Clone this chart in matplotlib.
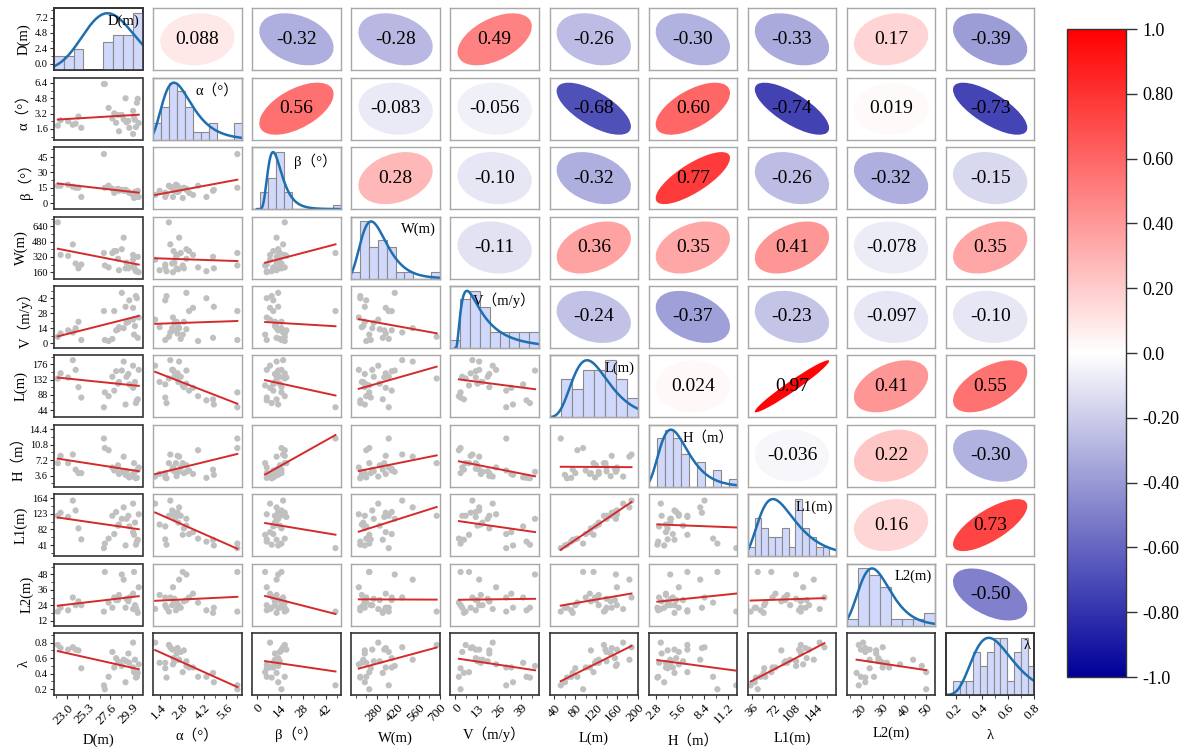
import numpy as np
import matplotlib
matplotlib.use('Agg')
import matplotlib.pyplot as plt
from matplotlib.patches import Ellipse
from matplotlib.colors import LinearSegmentedColormap, Normalize
from matplotlib.cm import ScalarMappable
from matplotlib.ticker import AutoMinorLocator

plt.rcParams['font.family'] = ['Liberation Serif', 'Noto Sans CJK SC', 'DejaVu Sans']
plt.rcParams['axes.unicode_minus'] = False

names = ['D(m)', 'α（°）', 'β（°）', 'W(m)', 'V（m/y）', 'L(m)', 'H（m）', 'L1(m)', 'L2(m)', 'λ']

# samples (estimated from the scatter panels)
D = [30.0, 28.5, 29.6, 24.5, 30.3, 23.6, 23.9, 28.2, 23.1, 29.5, 29.0, 27.8, 28.8, 30.6, 30.2,
     30.1, 28.4, 28.0, 30.0, 27.4, 30.4, 30.5, 29.2, 26.9, 27.0, 29.3, 22.0, 22.3, 24.2]
alpha = [1.08, 1.36, 1.72, 1.72, 1.80, 2.04, 2.16, 2.25, 2.40, 2.44, 2.60, 2.70, 3.06, 2.21, 2.55,
         2.83, 3.06, 3.23, 3.48, 3.80, 4.33, 4.75, 4.80, 6.29, 6.29, 2.30, 1.95, 2.50, 2.90]
beta = [8, 12, 10, 6, 9, 16, 15, 13, 18, 11, 12, 14, 13, 6, 11,
        5, 14, 10, 8, 17, 6, 12, 13, 48, 15, 12, 17, 17, 15]
Wm = [290, 180, 210, 240, 170, 450, 250, 380, 330, 200, 520, 360, 400, 160, 190,
      230, 300, 380, 340, 210, 170, 320, 200, 360, 230, 260, 680, 340, 200]
V = [22, 15, 40, 3, 44, 10, 14, 12, 12, 20, 14, 4, 47, 24, 16,
     8, 13, 30, 33, 2, 42, 5, 34, 30, 3, 19, 6, 9, 20]
L = [172, 125, 118, 80, 64, 188, 160, 156, 138, 148, 184, 140, 158, 160, 125,
     115, 120, 100, 108, 84, 72, 75, 60, 52, 95, 140, 135, 150, 110]
H = [3.4, 4.0, 3.2, 4.2, 3.0, 8.5, 5.0, 5.2, 6.5, 3.5, 8.0, 5.5, 4.5, 5.5, 4.5,
     6.5, 6.0, 4.8, 4.0, 9.5, 3.1, 5.0, 3.8, 12.2, 10.0, 4.6, 6.5, 8.2, 4.2]
L1 = [150, 95, 90, 56, 42, 158, 132, 128, 115, 118, 140, 118, 110, 122, 100,
      68, 92, 70, 75, 58, 50, 55, 40, 33, 45, 110, 118, 126, 85]
L2 = [21, 32, 30, 24, 22, 30, 24, 28, 20, 27, 44, 22, 48, 38, 24,
      50, 28, 30, 33, 26, 20, 18, 22, 19, 50, 29, 19, 22, 27]
lam = [0.80, 0.54, 0.54, 0.47, 0.35, 0.74, 0.71, 0.60, 0.71, 0.66, 0.58, 0.68, 0.50, 0.52, 0.58,
       0.42, 0.56, 0.48, 0.48, 0.36, 0.36, 0.41, 0.29, 0.25, 0.20, 0.56, 0.77, 0.73, 0.70]

data = [np.array(v, dtype=float) for v in (D, alpha, beta, Wm, V, L, H, L1, L2, lam)]

# printed correlation coefficients, upper triangle row by row
corr_rows = [
    ['0.088', '-0.32', '-0.28', '0.49', '-0.26', '-0.30', '-0.33', '0.17', '-0.39'],
    ['0.56', '-0.083', '-0.056', '-0.68', '0.60', '-0.74', '0.019', '-0.73'],
    ['0.28', '-0.10', '-0.32', '0.77', '-0.26', '-0.32', '-0.15'],
    ['-0.11', '0.36', '0.35', '0.41', '-0.078', '0.35'],
    ['-0.24', '-0.37', '-0.23', '-0.097', '-0.10'],
    ['0.024', '0.97', '0.41', '0.55'],
    ['-0.036', '0.22', '-0.30'],
    ['0.16', '0.73'],
    ['-0.50'],
]

xticks = [['23.0', '25.3', '27.6', '29.9'], ['1.4', '2.8', '4.2', '5.6'], ['0', '14', '28', '42'],
          ['280', '420', '560', '700'], ['0', '13', '26', '39'], ['40', '80', '120', '160', '200'],
          ['2.8', '5.6', '8.4', '11.2'], ['36', '72', '108', '144'], ['20', '30', '40', '50'],
          ['0.2', '0.4', '0.6', '0.8']]
yticks = [['0.0', '2.4', '4.8', '7.2'], ['1.6', '3.2', '4.8', '6.4'], ['0', '15', '30', '45'],
          ['160', '320', '480', '640'], ['0', '14', '28', '42'], ['44', '88', '132', '176'],
          ['3.6', '7.2', '10.8', '14.4'], ['41', '82', '123', '164'], ['12', '24', '36', '48'],
          ['0.2', '0.4', '0.6', '0.8']]
xlims = [(21.6, 31.0), (0.95, 6.56), (-2.9, 51.2), (110, 701), (-3, 49.3), (30.4, 200.5),
         (1.98, 12.3), (28, 178), (13.5, 54.2), (0.123, 0.805)]
ylims = [(-1.05, 8.66), (0.48, 6.95), (-5.9, 54.8), (94, 741), (-4.4, 53.5), (23, 202),
         (1.05, 15.4), (12, 175), (8.1, 56.6), (0.127, 0.925)]
nbins = [9, 11, 11, 10, 9, 8, 11, 13, 8, 13]

cb_ticks = [-1.0, -0.8, -0.6, -0.4, -0.2, 0.0, 0.2, 0.4, 0.6, 0.8, 1.0]
cb_labels = ['-1.0', '-0.80', '-0.60', '-0.40', '-0.20', '0.0', '0.20', '0.40', '0.60', '0.80', '1.0']

cmap = LinearSegmentedColormap.from_list('bwr_o', [(0, 0, 0.6), (1, 1, 1), (1, 0, 0)])
norm = Normalize(-1, 1)

FW, FH = 1192, 755
fig = plt.figure(figsize=(FW / 100, FH / 100), dpi=100)

left0, colstep, pw = 54, 99.1, 88.5
top0, rowstep, ph = 8.3, 69.4, 62
dark, light = '#333333', '#a8a8a8'

for i in range(10):
    for j in range(10):
        x0 = left0 + j * colstep
        y0 = top0 + i * rowstep
        ax = fig.add_axes([x0 / FW, 1 - (y0 + ph) / FH, pw / FW, ph / FH])
        edge = dark if (j == 0 or i == 9) else light
        for sp in ax.spines.values():
            sp.set_color(edge)
            sp.set_linewidth(1.2 if edge == dark else 1.0)
        ax.set_xticks([])
        ax.set_yticks([])

        if i > j:
            # lower triangle: scatter with linear fit
            x, y = data[j], data[i]
            ax.scatter(x, y, s=20, color='#c0c0c0', edgecolors='none', zorder=2)
            k, b = np.polyfit(x, y, 1)
            xs = np.array([x.min(), x.max()])
            ax.plot(xs, k * xs + b, color='#d42a2a', lw=1.4, zorder=3)
            ax.set_xlim(xlims[j])
            ax.set_ylim(ylims[i])
        elif i == j:
            # diagonal: histogram with fitted curve
            ax.set_xlim(xlims[j])
            ax.set_ylim(ylims[i])
            ax2 = ax.twinx()
            for sp in ax2.spines.values():
                sp.set_color(edge)
                sp.set_linewidth(1.2 if edge == dark else 1.0)
            edges = np.linspace(xlims[j][0], xlims[j][1], nbins[j] + 1)
            counts, _, _ = ax2.hist(data[i], bins=edges, color='#d0d8fb', edgecolor='#8a8a8a', lw=0.8)
            lx = np.log(data[i])
            mu, sg = lx.mean(), lx.std()
            xs = np.linspace(max(xlims[j][0], 1e-3), xlims[j][1], 300)
            pdf = np.exp(-(np.log(xs) - mu) ** 2 / (2 * sg ** 2)) / (xs * sg * np.sqrt(2 * np.pi))
            curve = pdf / pdf.max() * counts.max()
            ax2.plot(xs, curve, color='#1f6fb0', lw=1.8)
            ax2.set_ylim(0, counts.max() / 0.92)
            ax2.set_yticks([])
            ax2.set_xlim(xlims[j])
            ax2.text(0.96, 0.9, names[i], transform=ax2.transAxes, ha='right', va='top', fontsize=10.5)
        else:
            # upper triangle: correlation ellipse
            txt = corr_rows[i][j - i - 1]
            r = float(txt)
            kk = 0.42
            a = kk * np.sqrt(1 + abs(r))
            bb = kk * np.sqrt(1 - abs(r))
            ang = 45 if r > 0 else -45
            ax.add_patch(Ellipse((0.5, 0.5), 2 * a, 2 * bb, angle=ang, transform=ax.transAxes,
                                 facecolor=cmap(norm(r)), edgecolor='none'))
            ax.text(0.5, 0.5, txt, transform=ax.transAxes, ha='center', va='center', fontsize=14)

        if j == 0:
            yv = [float(t) for t in yticks[i]]
            ax.set_yticks(yv)
            ax.set_yticklabels(yticks[i])
            ax.yaxis.set_minor_locator(AutoMinorLocator(2))
            ax.tick_params(axis='y', which='both', direction='out', colors=dark, labelcolor='black',
                           labelsize=7.5, pad=1.5)
            ax.tick_params(axis='y', which='major', length=3)
            ax.tick_params(axis='y', which='minor', length=2)
            ax.set_ylabel(names[i], fontsize=10.5, labelpad=3)
        if i == 9:
            xv = [float(t) for t in xticks[j]]
            ax.set_xticks(xv)
            ax.set_xticklabels(xticks[j], rotation=45, ha='right', rotation_mode='anchor')
            ax.xaxis.set_minor_locator(AutoMinorLocator(2))
            ax.tick_params(axis='x', which='both', direction='out', colors=dark, labelcolor='black',
                           labelsize=9.5, pad=2)
            ax.tick_params(axis='x', which='major', length=3)
            ax.tick_params(axis='x', which='minor', length=2)
            ax.set_xlabel(names[j], fontsize=10.5, labelpad=5)

cax = fig.add_axes([1067 / FW, 1 - 677 / FH, 59 / FW, 648 / FH])
cb = fig.colorbar(ScalarMappable(norm=norm, cmap=cmap), cax=cax, ticks=cb_ticks)
cb.set_ticklabels(cb_labels)
cb.outline.set_edgecolor('#333333')
cb.outline.set_linewidth(1.0)
cax.tick_params(length=8, width=1, labelsize=13, pad=4, colors='#333333', labelcolor='black')

fig.savefig('out.png', dpi=100)
